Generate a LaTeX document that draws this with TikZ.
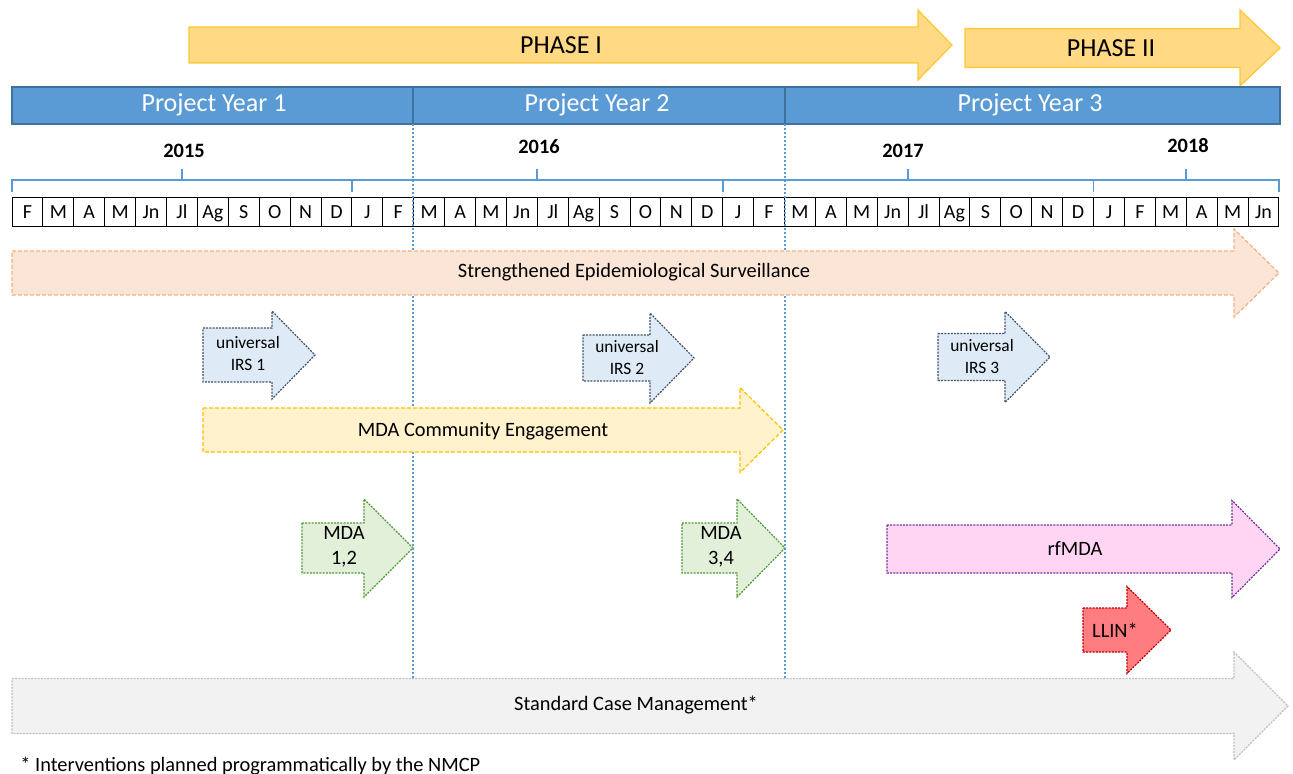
\documentclass[tikz,border=0pt]{standalone}
\usepackage{fontspec}
\setmainfont{Carlito}
\definecolor{phasefill}{HTML}{FFD983}
\definecolor{phaseline}{HTML}{FFC733}
\definecolor{barblue}{HTML}{5B9BD5}
\definecolor{barline}{HTML}{41719C}
\definecolor{survfill}{HTML}{FBE5D6}
\definecolor{survline}{HTML}{F4B183}
\definecolor{irsfill}{HTML}{DEEBF7}
\definecolor{irsline}{HTML}{44546A}
\definecolor{engfill}{HTML}{FFF2CC}
\definecolor{engline}{HTML}{FFC000}
\definecolor{mdafill}{HTML}{E2F0D9}
\definecolor{mdaline}{HTML}{4E9A35}
\definecolor{rffill}{HTML}{FFD5F3}
\definecolor{rfline}{HTML}{7030A0}
\definecolor{llinfill}{HTML}{FF7C80}
\definecolor{llinline}{HTML}{C00000}
\definecolor{scmfill}{HTML}{F2F2F2}
\definecolor{scmline}{HTML}{BFBFBF}
% block arrow: [style] x-start, head base, tip, centre y, half body, half head
\newcommand{\blockarrow}[7][]{%
  \draw[#1] (#2,#5-#6) -- (#3,#5-#6) -- (#3,#5-#7) -- (#4,#5)
    -- (#3,#5+#7) -- (#3,#5+#6) -- (#2,#5+#6) -- cycle;}

\begin{document}
\begin{tikzpicture}[x=0.5pt,y=-0.5pt,
    lbl/.style={inner sep=0pt,align=center,font=\fontsize{10.2}{12.5}\selectfont},
    small/.style={inner sep=0pt,align=center,font=\fontsize{8.7}{11}\selectfont},
    phase/.style={fill=phasefill,draw=phaseline,line width=0.6pt},
    month/.style={draw,line width=0.5pt,minimum width=15.45pt,minimum height=14.5pt,
      inner sep=0pt,text height=6.5pt,text depth=0pt,font=\fontsize{10}{11}\selectfont},
    yrline/.style={barblue,line width=0.6pt},
    sep/.style={barblue,line width=0.6pt,dash pattern=on 1pt off 1pt},
    act/.style={line width=0.6pt,dash pattern=on 2pt off 1pt},
    dots/.style={line width=0.6pt,dash pattern=on 1pt off 0.6pt}]
  \useasboundingbox (0,0) rectangle (1293,774);

  % phases
  \blockarrow[phase]{189}{918}{952}{45}{18}{35}
  \blockarrow[phase]{965}{1240}{1280}{48}{19.5}{38}
  \node[lbl,font=\fontsize{13}{15}\selectfont] (ph1) at (561,45) {PHASE I};
  \node[lbl,font=\fontsize{13}{15}\selectfont] (ph2) at (1111,48) {PHASE II};

  % project years
  \draw[fill=barblue,draw=barline,line width=0.6pt] (12,87) rectangle (1280,124);
  \draw[barline,line width=0.6pt] (413,87) -- (413,124) (785,87) -- (785,124);
  \node[lbl,white,font=\fontsize{13}{15}\selectfont] (py1) at (214,105) {Project Year 1};
  \node[lbl,white,font=\fontsize{13}{15}\selectfont] (py2) at (597,105) {Project Year 2};
  \node[lbl,white,font=\fontsize{13}{15}\selectfont] (py3) at (1030,105) {Project Year 3};

  % calendar years
  \draw[yrline] (12,192) -- (12,180) -- (1279,180) -- (1279,192);
  \foreach \x in {352,723,1093.5} \draw[yrline] (\x,180) -- (\x,192);
  \foreach \x in {182,537,908,1186} \draw[yrline] (\x,180) -- (\x,169);
  \node[lbl,font=\fontsize{10.2}{12}\bfseries] (y15) at (184,151) {2015};
  \node[lbl,font=\fontsize{10.2}{12}\bfseries] (y16) at (539,147) {2016};
  \node[lbl,font=\fontsize{10.2}{12}\bfseries] (y17) at (903,151) {2017};
  \node[lbl,font=\fontsize{10.2}{12}\bfseries] (y18) at (1188,146) {2018};

  % months
  \foreach \m [count=\i] in {F,M,A,M,Jn,Jl,Ag,S,O,N,D,J,F,M,A,M,Jn,Jl,Ag,S,O,N,D,J,F,
      M,A,M,Jn,Jl,Ag,S,O,N,D,J,F,M,A,M,Jn}
    \node[month] (m\i) at ({12+(\i-0.5)*30.9},212.5) {\m};

  % year boundaries
  \draw[sep] (413,124) -- (413,678);
  \draw[sep] (785,124) -- (785,678);

  % interventions
  \blockarrow[act,fill=survfill,draw=survline]{12}{1234}{1279}{273}{22}{44}
  \node[lbl] (surv) at (634,272) {Strengthened Epidemiological Surveillance};

  \blockarrow[dots,fill=irsfill,draw=irsline]{203}{272}{315}{355}{27}{44}
  \blockarrow[dots,fill=irsfill,draw=irsline]{583}{650}{694}{358}{23}{45}
  \blockarrow[dots,fill=irsfill,draw=irsline]{938}{1005}{1050}{357}{23.5}{45.5}
  \node[small] (irs1) at (248,354) {universal\\IRS 1};
  \node[small] (irs2) at (627,358) {universal\\IRS 2};
  \node[small] (irs3) at (982,357) {universal\\IRS 3};

  \blockarrow[act,fill=engfill,draw=engline]{203}{740}{783}{430}{22}{42.5}
  \node[lbl] (eng) at (483,431) {MDA Community Engagement};

  \blockarrow[dots,fill=mdafill,draw=mdaline]{302}{364}{413}{548}{25}{49}
  \blockarrow[dots,fill=mdafill,draw=mdaline]{682}{737}{785}{548}{25}{49}
  \node[lbl] (mda12) at (344,547) {MDA\\1,2};
  \node[lbl] (mda34) at (721,547) {MDA\\3,4};

  \blockarrow[dots,fill=rffill,draw=rfline]{887}{1232}{1280}{549}{24}{48.5}
  \node[lbl] (rf) at (1075,549) {rfMDA};

  \blockarrow[dots,fill=llinfill,draw=llinline]{1083}{1127}{1171}{630}{22}{43.5}
  \node[lbl] (llin) at (1115,630) {LLIN*};

  \blockarrow[dots,fill=scmfill,draw=scmline]{12}{1234}{1288}{706}{27.5}{54}
  \node[lbl] (scm) at (636,705) {Standard Case Management*};

  % footnote
  \node[lbl,anchor=base west] (note) at (20,771) {* Interventions planned programmatically by the NMCP};
\end{tikzpicture}
\end{document}
